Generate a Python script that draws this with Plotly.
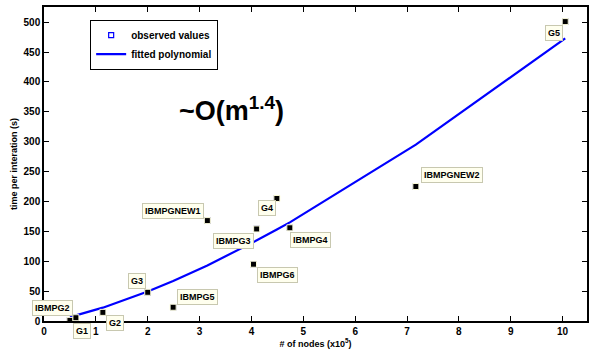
import plotly.graph_objects as go

# Graph instances: size (x10^5 nodes) and measured time per iteration (s)
names = ["IBMPG2", "G1", "G2", "G3", "IBMPG5", "IBMPGNEW1", "IBMPG6",
         "IBMPG3", "G4", "IBMPG4", "IBMPGNEW2", "G5"]
nodes = [0.50, 0.615, 1.135, 2.00, 2.49, 3.15, 4.04, 4.10, 4.49, 4.74, 7.17, 10.05]
times = [1, 5.5, 14.4, 48, 23, 168, 95, 154, 205, 156, 225, 501]
# Fitted curve evaluated at the same node counts
fitted = [7.1, 9.5, 22.3, 49.3, 67, 93, 132, 135, 153, 165, 295, 473]

x_ticks = list(range(0, 11))
y_ticks = list(range(0, 501, 50))

# Label placement (pixel shift of each tag from its point)
label_shift = {
    "IBMPG2": (-17, 12.5), "G1": (6, -13), "G2": (12, -11), "G3": (-11, 11),
    "IBMPG5": (24, 10), "IBMPGNEW1": (-34, 10), "G4": (-10, -10),
    "IBMPG3": (-23, -12), "IBMPG6": (24, -11), "IBMPG4": (21, -12),
    "IBMPGNEW2": (36, 12), "G5": (-11, -11),
}

font_main = "Liberation Sans, Arial, Helvetica, sans-serif"

fig = go.Figure()
fig.add_trace(go.Scatter(
    x=nodes, y=times, mode="markers", name="<b>observed values</b>",
    marker=dict(symbol="square-open", size=5, color="#0000ff",
                line=dict(width=1.2, color="#0000ff")),
))
fig.add_trace(go.Scatter(
    x=nodes, y=fitted, mode="lines", name="<b>fitted polynomial</b>",
    line=dict(color="#0000ff", width=2.2),
))
fig.add_trace(go.Scatter(
    x=nodes, y=times, mode="markers", showlegend=False, hoverinfo="skip",
    marker=dict(symbol="square", size=6, color="black",
                line=dict(width=1, color="#ffffd8")),
))

for n, xv, yv in zip(names, nodes, times):
    dx, dy = label_shift[n]
    fig.add_annotation(
        x=xv, y=yv, text="<b>%s</b>" % n, showarrow=False,
        xshift=dx, yshift=dy,
        font=dict(family=font_main, size=9, color="black"),
        bgcolor="#ffffee", bordercolor="#c8c8b0", borderwidth=1, borderpad=2,
    )

# Complexity note
fig.add_annotation(
    x=3.62, y=354, xref="x", yref="y", text="<b>~O(m<sup>1.4</sup>)</b>",
    showarrow=False, font=dict(family=font_main, size=27, color="black"),
)

axis_common = dict(
    showgrid=False, zeroline=False, showline=True, mirror="ticks",
    linecolor="black", linewidth=1.5, ticks="inside", ticklen=5,
    tickcolor="black", tickwidth=1,
    tickfont=dict(family=font_main, size=10, color="black"),
)

fig.update_layout(
    width=594, height=350, plot_bgcolor="white", paper_bgcolor="white",
    margin=dict(l=44, r=5, t=5, b=29),
    xaxis=dict(range=[0, 10.47], tickvals=x_ticks,
               ticktext=["<b>%d</b>" % v for v in x_ticks],
               title=dict(text="<b># of nodes (x10<sup>5</sup>)</b>", standoff=2,
                          font=dict(family=font_main, size=9, color="black")),
               **axis_common),
    yaxis=dict(range=[0, 525.4], tickvals=y_ticks,
               ticktext=["<b>%d</b>" % v for v in y_ticks],
               title=dict(text="<b>time per interation (s)</b>", standoff=4,
                          font=dict(family=font_main, size=9, color="black")),
               **axis_common),
    legend=dict(x=0.085, y=0.96, xanchor="left", yanchor="top",
                bgcolor="white", bordercolor="black", borderwidth=1,
                font=dict(family=font_main, size=10, color="black"),
                itemwidth=30, tracegroupgap=0),
    showlegend=True,
)

fig.write_html("out.html")
